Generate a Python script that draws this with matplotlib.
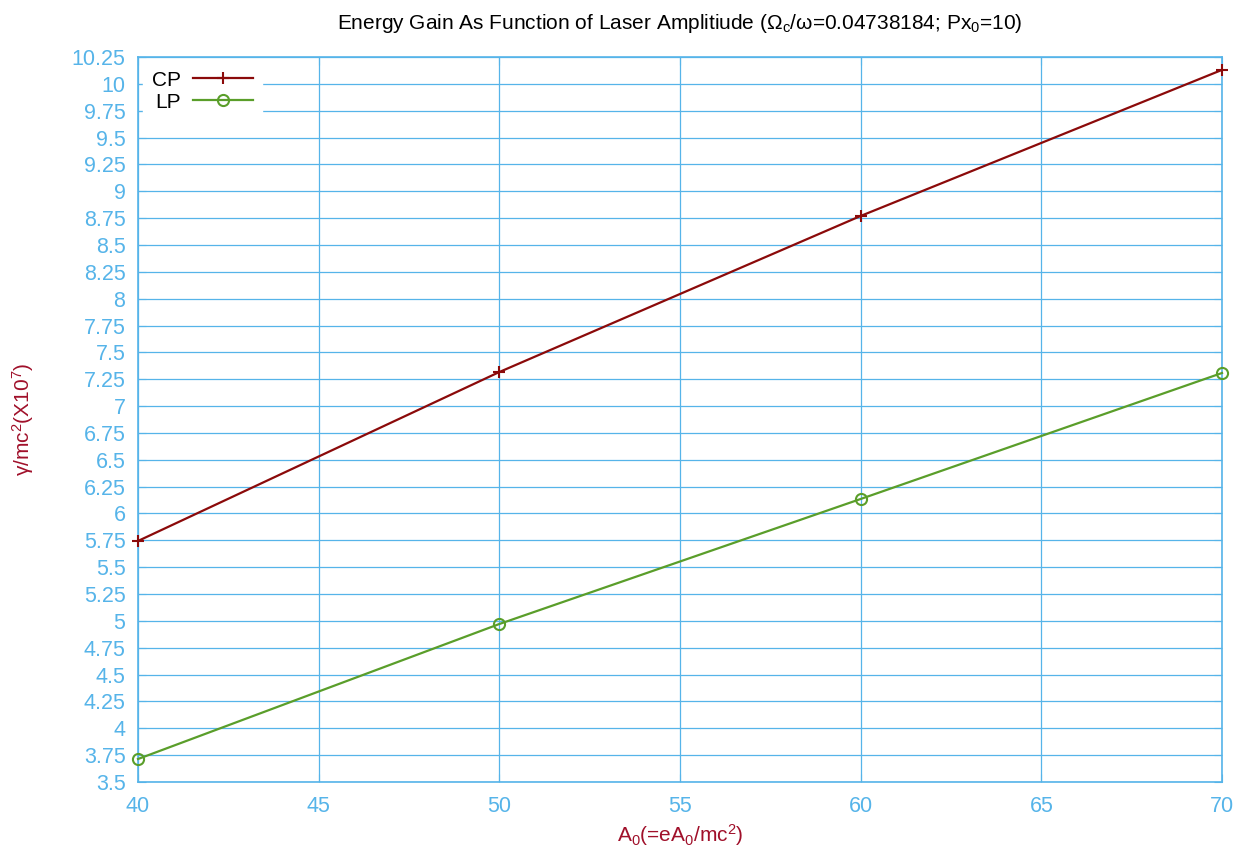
import matplotlib
matplotlib.use("Agg")
import matplotlib.pyplot as plt
import numpy as np

a0 = [40, 50, 60, 70]
cp = [5.744, 7.317, 8.77, 10.13]
lp = [3.714, 4.971, 6.135, 7.308]
xticks = [40, 45, 50, 55, 60, 65, 70]
yticks = [3.5, 3.75, 4, 4.25, 4.5, 4.75, 5, 5.25, 5.5, 5.75, 6, 6.25, 6.5, 6.75, 7,
          7.25, 7.5, 7.75, 8, 8.25, 8.5, 8.75, 9, 9.25, 9.5, 9.75, 10, 10.25]

plt.rcParams['font.family'] = ['Liberation Sans', 'DejaVu Sans']
plt.rcParams['mathtext.fontset'] = 'custom'
plt.rcParams['mathtext.rm'] = 'Liberation Sans'
plt.rcParams['mathtext.it'] = 'Liberation Sans'

blue = '#56b4e9'
label_col = '#a0102a'

fig = plt.figure(figsize=(12.4, 8.5), dpi=100)
ax = fig.add_axes([138/1240, 1-782/850, (1222-138)/1240, (782-57)/850])

ax.plot(a0, cp, color='#8b0a0a', lw=1.6, marker='+', ms=9, mew=1.5, label='CP', clip_on=False, zorder=3)
ax.plot(a0, lp, color='#5a9e2a', lw=1.6, marker='o', ms=8, mfc='none', mew=1.5, label='LP', clip_on=False, zorder=3)

ax.set_xlim(40, 70)
ax.set_ylim(3.5, 10.25)
ax.set_xticks(xticks)
ax.set_yticks(yticks)
ax.set_yticklabels([('%g' % v) for v in yticks])
ax.grid(True, color=blue, lw=0.9)
ax.set_axisbelow(True)
for s in ax.spines.values():
    s.set_color(blue)
    s.set_linewidth(1.2)
ax.tick_params(axis='both', colors=blue, labelsize=15.5, direction='in', length=6,
               top=True, right=True)
ax.tick_params(axis='x', pad=10)
ax.tick_params(axis='y', pad=9)
for lab in ax.get_xticklabels() + ax.get_yticklabels():
    lab.set_color(blue)

ax.set_xlabel(r'A$_0$(=eA$_0$/mc$^2$)', color=label_col, fontsize=15, labelpad=4)
ax.set_ylabel(r'γ/mc$^2$(X10$^7$)', color=label_col, fontsize=15, labelpad=26)
ax.set_title(r'Energy Gain As Function of Laser Amplitiude ($\Omega_c$/ω=0.04738184; Px$_0$=10)',
             fontsize=15, pad=20)

leg = ax.legend(loc='upper left', markerfirst=False, frameon=True, fancybox=False,
                fontsize=15, handlelength=2.9, borderaxespad=0.25, labelspacing=0.15,
                handletextpad=0.6, borderpad=0.4)
leg.get_frame().set_edgecolor('white')
leg.get_frame().set_facecolor('white')
leg.get_frame().set_alpha(1)

fig.savefig('out.png', dpi=100)
